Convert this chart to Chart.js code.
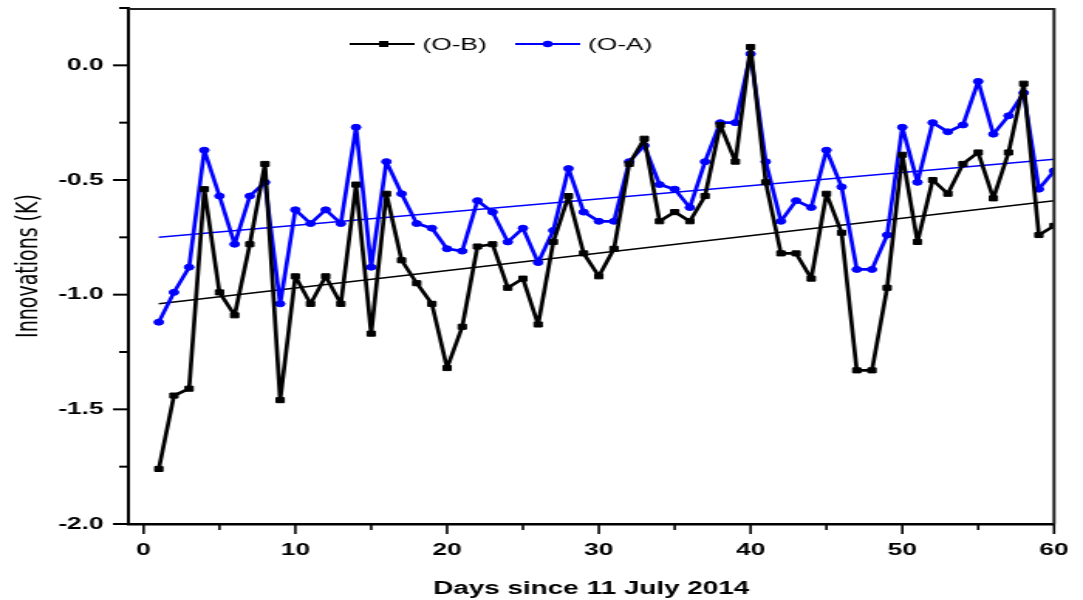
<!DOCTYPE html>
<html>
<head>
<meta charset="utf-8">
<script src="https://cdn.jsdelivr.net/npm/chart.js@4.4.1/dist/chart.umd.min.js"></script>
<style>
  html, body { margin: 0; padding: 0; background: #fff; overflow: hidden; }
  /* the reference is stretched sideways, so draw narrow and widen it */
  #wrap { width: 700px; height: 600px; transform: scaleX(1.5471); transform-origin: 0 0; }
</style>
</head>
<body>
<div id="wrap"><canvas id="chart"></canvas></div>
<script>
const days = [1, 2, 3, 4, 5, 6, 7, 8, 9, 10, 11, 12, 13, 14, 15, 16, 17, 18, 19, 20,
  21, 22, 23, 24, 25, 26, 27, 28, 29, 30, 31, 32, 33, 34, 35, 36, 37, 38, 39, 40,
  41, 42, 43, 44, 45, 46, 47, 48, 49, 50, 51, 52, 53, 54, 55, 56, 57, 58, 59, 60];

// (O-B)
const obValues = [-1.76, -1.44, -1.41, -0.54, -0.99, -1.09, -0.78, -0.43, -1.46, -0.92,
  -1.04, -0.92, -1.04, -0.52, -1.17, -0.56, -0.85, -0.95, -1.04, -1.32,
  -1.14, -0.79, -0.78, -0.97, -0.93, -1.13, -0.77, -0.57, -0.82, -0.92,
  -0.80, -0.43, -0.32, -0.68, -0.64, -0.68, -0.57, -0.26, -0.42, 0.08,
  -0.51, -0.82, -0.82, -0.93, -0.56, -0.73, -1.33, -1.33, -0.97, -0.39,
  -0.77, -0.50, -0.56, -0.43, -0.38, -0.58, -0.38, -0.08, -0.74, -0.70];

// (O-A)
const oaValues = [-1.12, -0.99, -0.88, -0.37, -0.57, -0.78, -0.57, -0.51, -1.04, -0.63,
  -0.69, -0.63, -0.69, -0.27, -0.88, -0.42, -0.56, -0.69, -0.71, -0.80,
  -0.81, -0.59, -0.64, -0.77, -0.71, -0.86, -0.72, -0.45, -0.64, -0.68,
  -0.68, -0.42, -0.35, -0.52, -0.54, -0.62, -0.42, -0.25, -0.25, 0.05,
  -0.42, -0.68, -0.59, -0.62, -0.37, -0.53, -0.89, -0.89, -0.74, -0.27,
  -0.51, -0.25, -0.29, -0.26, -0.07, -0.30, -0.22, -0.12, -0.54, -0.46];

// linear trend lines, read at first and last day
const trendDays = [1, 60];
const obTrend = [-1.04, -0.59];
const oaTrend = [-0.75, -0.41];

const xTicks = [0, 10, 20, 30, 40, 50, 60];
const yTicks = [-2.0, -1.5, -1.0, -0.5, 0.0];

const toPoints = (xs, ys) => xs.map((d, i) => ({x: d, y: ys[i]}));
const isMajorY = v => yTicks.some(t => Math.abs(t - v) < 1e-9);

const BLUE = '#0000ff';
const FONT = "'Liberation Sans', Arial, sans-serif";

// minor/major tick marks, top and right frame, and the legend
const extras = {
  id: 'extras',
  afterDraw(chart) {
    const {ctx, chartArea: a, scales: {x, y}} = chart;
    ctx.save();
    ctx.strokeStyle = '#000';
    ctx.lineWidth = 1.6;
    x.ticks.forEach(t => {
      if (t.value % 5 !== 0) return;
      const px = x.getPixelForValue(t.value);
      const len = xTicks.includes(t.value) ? 10 : 6;
      ctx.beginPath(); ctx.moveTo(px, a.bottom); ctx.lineTo(px, a.bottom + len); ctx.stroke();
    });
    ctx.lineWidth = 2;
    y.ticks.forEach(t => {
      const py = y.getPixelForValue(t.value);
      const len = isMajorY(t.value) ? 10 : 6;
      ctx.beginPath(); ctx.moveTo(a.left, py); ctx.lineTo(a.left - len, py); ctx.stroke();
    });

    ctx.strokeStyle = '#222';
    ctx.lineWidth = 2;
    ctx.beginPath();
    ctx.moveTo(a.left, a.top + 1); ctx.lineTo(a.right, a.top + 1); ctx.lineTo(a.right, a.bottom);
    ctx.stroke();

    // legend
    const ly = 44;
    ctx.lineWidth = 2;
    ctx.strokeStyle = '#000';
    ctx.beginPath(); ctx.moveTo(226, ly); ctx.lineTo(268, ly); ctx.stroke();
    ctx.fillStyle = '#000';
    ctx.fillRect(245, ly - 3, 6, 6);
    ctx.strokeStyle = BLUE;
    ctx.beginPath(); ctx.moveTo(333, ly); ctx.lineTo(375, ly); ctx.stroke();
    ctx.fillStyle = BLUE;
    ctx.beginPath(); ctx.arc(354, ly, 3.2, 0, Math.PI * 2); ctx.fill();
    ctx.fillStyle = '#000';
    ctx.font = '17px ' + FONT;
    ctx.textBaseline = 'middle';
    ctx.fillText('(O-B)', 273, ly + 1);
    ctx.fillText('(O-A)', 380, ly + 1);
    ctx.restore();
  }
};

const ctx = document.getElementById('chart').getContext('2d');

const chart = new Chart(ctx, {
  type: 'line',
  data: {
    datasets: [
      {
        label: '(O-B)',
        data: toPoints(days, obValues),
        borderColor: '#000',
        backgroundColor: '#000',
        borderWidth: 2.7,
        borderJoinStyle: 'round',
        pointStyle: 'rect',
        pointRadius: 3.6,
        pointBorderWidth: 1,
        tension: 0
      },
      {
        label: '(O-A)',
        data: toPoints(days, oaValues),
        borderColor: BLUE,
        backgroundColor: BLUE,
        borderWidth: 2.7,
        borderJoinStyle: 'round',
        pointStyle: 'circle',
        pointRadius: 3,
        pointBorderWidth: 1,
        tension: 0
      },
      {
        label: 'trend O-B',
        data: toPoints(trendDays, obTrend),
        borderColor: '#000',
        borderWidth: 1.5,
        pointRadius: 0
      },
      {
        label: 'trend O-A',
        data: toPoints(trendDays, oaTrend),
        borderColor: BLUE,
        borderWidth: 1.5,
        pointRadius: 0
      }
    ]
  },
  options: {
    responsive: true,
    maintainAspectRatio: false,
    animation: false,
    layout: {
      padding: {top: 8, right: 18.7, left: 0, bottom: 0}
    },
    plugins: {
      legend: {display: false},
      tooltip: {enabled: false}
    },
    scales: {
      x: {
        type: 'linear',
        min: -1,
        max: 60,
        afterFit: s => { s.height = 76; s.paddingLeft = 0; s.paddingRight = 0; },
        grid: {display: false, drawTicks: false},
        border: {display: true, color: '#000', width: 2.5},
        ticks: {
          stepSize: 5,
          includeBounds: false,
          autoSkip: false,
          maxRotation: 0,
          padding: 16,
          color: '#000',
          font: {family: FONT, size: 17, weight: 'bold'},
          callback: v => xTicks.includes(v) ? String(v) : ''
        },
        title: {
          display: true,
          text: 'Days since 11 July 2014',
          color: '#000',
          font: {family: FONT, size: 18, weight: 'bold'},
          padding: {top: 0, bottom: 0}
        }
      },
      y: {
        min: -2,
        max: 0.25,
        afterFit: s => { s.width = 83; s.paddingTop = 0; s.paddingBottom = 0; },
        grid: {display: false, drawTicks: false},
        border: {display: true, color: '#000', width: 2},
        ticks: {
          stepSize: 0.25,
          autoSkip: false,
          padding: 16,
          color: '#000',
          font: {family: FONT, size: 17, weight: 'bold'},
          callback: v => isMajorY(v) ? v.toFixed(1) : ''
        },
        title: {
          display: true,
          text: 'Innovations (K)',
          color: '#000',
          font: {family: "'DejaVu Sans', sans-serif", size: 19},
          padding: {top: 8, bottom: 0}
        }
      }
    }
  },
  plugins: [extras]
});
</script>
</body>
</html>
